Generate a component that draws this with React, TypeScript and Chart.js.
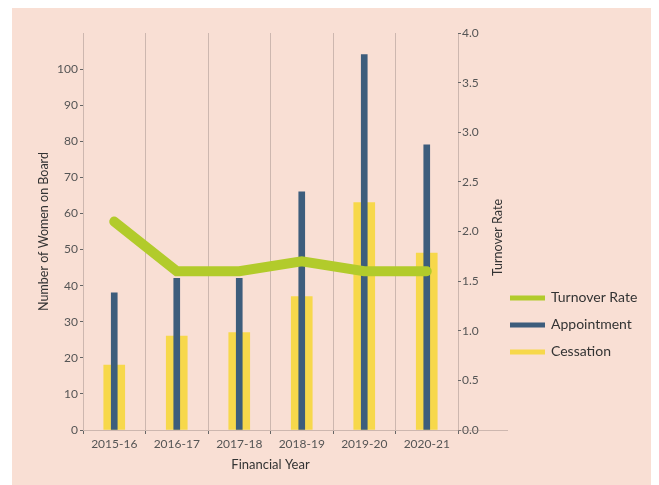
import { useEffect, useRef } from "react";
import { Chart, registerables } from "chart.js";

Chart.register(...registerables);

// Financial years on the category axis
const years = ["2015-16", "2016-17", "2017-18", "2018-19", "2019-20", "2020-21"];
// Board-level movements of women directors (left axis)
const appointment = [38, 42, 42, 66, 104, 79];
const cessation = [18, 26, 27, 37, 63, 49];
// Turnover rate (right axis)
const turnoverRate = [2.1, 1.6, 1.6, 1.7, 1.6, 1.6];

const countMax = 110;
const countLabelMax = 100;
const rateMax = 4;
const rateTitle = "Turnover Rate";

const BG = "#f9dfd4";
const GREEN = "#b2cb2b";
const BLUE = "#3d5d7c";
const YELLOW = "#f7d84b";
const GRID = "rgba(150, 135, 130, 0.45)";
const TICK = "#666";
const TEXT = "#333";
const FONT = "Lato, 'Open Sans', sans-serif";

// Right-axis title (reading bottom-to-top) and the legend beside it
const sideLegend = {
  id: "sideLegend",
  afterDraw(chart: any) {
    const { ctx, chartArea } = chart;
    ctx.save();

    // axis baseline continues under the right-hand tick labels
    ctx.strokeStyle = GRID;
    ctx.lineWidth = 1;
    ctx.beginPath();
    ctx.moveTo(chartArea.right, chartArea.bottom + 0.5);
    ctx.lineTo(chartArea.right + 50, chartArea.bottom + 0.5);
    ctx.stroke();

    // right axis title
    ctx.save();
    ctx.translate(chartArea.right + 40, (chartArea.top + chartArea.bottom) / 2 + 6);
    ctx.rotate(-Math.PI / 2);
    ctx.fillStyle = TEXT;
    ctx.font = `12.5px ${FONT}`;
    ctx.textAlign = "center";
    ctx.textBaseline = "middle";
    ctx.fillText(rateTitle, 0, 0);
    ctx.restore();

    // legend rows
    const x0 = chartArea.right + 52;
    const rowY = [chartArea.bottom - 133, chartArea.bottom - 106, chartArea.bottom - 79];
    chart.data.datasets.forEach((ds: any, i: number) => {
      const y = rowY[i];
      ctx.strokeStyle = ds.legendColor;
      ctx.lineWidth = 5;
      ctx.lineCap = "butt";
      ctx.beginPath();
      ctx.moveTo(x0, y + 1);
      ctx.lineTo(x0 + 35, y + 1);
      ctx.stroke();
      ctx.fillStyle = TEXT;
      ctx.font = `14px ${FONT}`;
      ctx.textBaseline = "middle";
      ctx.textAlign = "left";
      ctx.fillText(ds.label, x0 + 41, y);
    });
    ctx.restore();
  },
};

export default function App() {
  const canvasRef = useRef<HTMLCanvasElement | null>(null);

  useEffect(() => {
    if (!canvasRef.current) return;
    const chart = new Chart(canvasRef.current, {
      type: "bar",
      data: {
        labels: years,
        datasets: [
          {
            type: "line",
            label: "Turnover Rate",
            data: turnoverRate,
            yAxisID: "y1",
            borderColor: GREEN,
            backgroundColor: GREEN,
            borderWidth: 10,
            borderCapStyle: "round",
            borderJoinStyle: "miter",
            pointRadius: 0,
            tension: 0,
            order: 0,
            legendColor: GREEN,
          } as any,
          {
            type: "bar",
            label: "Appointment",
            data: appointment,
            yAxisID: "y",
            backgroundColor: BLUE,
            barThickness: 6,
            grouped: false,
            order: 1,
            legendColor: BLUE,
          } as any,
          {
            type: "bar",
            label: "Cessation",
            data: cessation,
            yAxisID: "y",
            backgroundColor: YELLOW,
            barThickness: 21,
            grouped: false,
            order: 2,
            legendColor: YELLOW,
          } as any,
        ],
      },
      options: {
        animation: false,
        responsive: true,
        maintainAspectRatio: false,
        layout: { padding: { left: 24, top: 25, right: 152, bottom: 12 } },
        plugins: {
          legend: { display: false },
          tooltip: { enabled: false },
        },
        scales: {
          x: {
            offset: true,
            grid: {
              offset: true,
              color: GRID,
              tickColor: TICK,
              tickLength: 4,
              drawOnChartArea: true,
            },
            border: { display: true, color: GRID },
            ticks: { color: "#555", font: { family: FONT, size: 12 }, padding: 3 },
            title: {
              display: true,
              text: "Financial Year",
              color: TEXT,
              font: { family: FONT, size: 13 },
              padding: { top: 6, bottom: 0 },
            },
            afterFit(scale: any) {
              scale.height = 43;
            },
          },
          y: {
            position: "left",
            min: 0,
            max: countMax,
            grid: {
              drawOnChartArea: false,
              tickColor: TICK,
              tickLength: 3,
            },
            border: { display: false },
            ticks: {
              stepSize: 10,
              color: "#555",
              font: { family: FONT, size: 12 },
              padding: 2,
            },
            afterBuildTicks(scale: any) {
              scale.ticks = scale.ticks.filter((t: any) => t.value <= countLabelMax);
            },
            title: {
              display: true,
              text: "Number of Women on Board",
              color: TEXT,
              font: { family: FONT, size: 12.5 },
              padding: { top: 0, bottom: 4 },
            },
            afterFit(scale: any) {
              scale.width = 47;
            },
          },
          y1: {
            position: "right",
            min: 0,
            max: rateMax,
            grid: {
              drawOnChartArea: false,
              tickColor: TICK,
              tickLength: 3,
            },
            border: { display: false },
            ticks: {
              stepSize: 0.5,
              color: "#555",
              font: { family: FONT, size: 12 },
              padding: 1,
              callback: (v: any) => Number(v).toFixed(1),
            },
            title: { display: false },
            afterFit(scale: any) {
              scale.width = 49;
            },
          },
        },
      } as any,
      plugins: [sideLegend],
    });
    return () => chart.destroy();
  }, []);

  return (
    <div
      style={{
        marginLeft: 4,
        width: 647,
        height: 477,
        background: BG,
        position: "relative",
      }}
    >
      <canvas ref={canvasRef} style={{ display: "block" }} />
    </div>
  );
}
